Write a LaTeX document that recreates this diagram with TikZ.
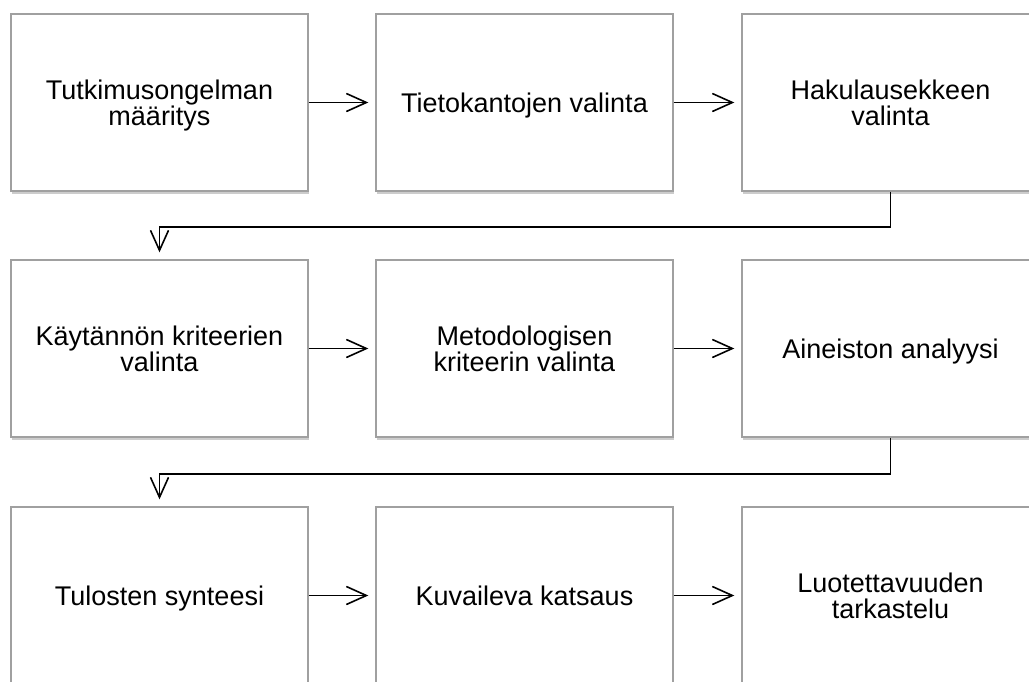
\documentclass[tikz,border=0pt]{standalone}
\usepackage{fontspec}
\setmainfont{Liberation Sans}
\usetikzlibrary{arrows.meta, shadows}
\tikzset{
  stage/.style={rectangle, draw={rgb,255:red,160;green,160;blue,160}, line width=1.4pt,
    fill=white, minimum width=297pt, minimum height=177pt,
    font=\fontsize{27}{25.5}\selectfont, align=center, text depth=0pt,
    drop shadow={shadow xshift=1pt, shadow yshift=-2.5pt, opacity=0.4, fill=gray}},
  flow/.style={-{Straight Barb[length=20pt, width=18pt]}, line width=1.6pt,
    shorten >=7pt}
}

\begin{document}
\begin{tikzpicture}[x=1pt, y=1pt]
\useasboundingbox (0,0) rectangle (1029,-681);

%% Row 1
\node[stage] (problem)     at (159.5, -102.5) {Tutkimusongelman\\määritys};
\node[stage] (databases)   at (524.5, -102.5) {Tietokantojen valinta};
\node[stage] (searchterms) at (890.5, -102.5) {Hakulausekkeen\\valinta};

%% Row 2
\node[stage] (practical)   at (159.5, -348.5) {\smash{Käytännön} kriteerien\\valinta};
\node[stage] (method)      at (524.5, -348.5) {Metodologisen\\kriteerin valinta};
\node[stage] (analysis)    at (890.5, -348.5) {Aineiston analyysi};

%% Row 3
\node[stage] (synthesis)   at (159.5, -595.5) {Tulosten synteesi};
\node[stage] (review)      at (524.5, -595.5) {Kuvaileva katsaus};
\node[stage] (reliability) at (890.5, -595.5) {Luotettavuuden\\tarkastelu};

%% ── Row 1 flows
\draw[flow] (problem.east) -- (databases.west);
\draw[flow] (databases.east) -- (searchterms.west);
\draw[flow] (searchterms.south) -- ++(0,-35) -| (practical.north);

%% ── Row 2 flows
\draw[flow] (practical.east) -- (method.west);
\draw[flow] (method.east) -- (analysis.west);
\draw[flow] (analysis.south) -- ++(0,-36) -| (synthesis.north);

%% ── Row 3 flows
\draw[flow] (synthesis.east) -- (review.west);
\draw[flow] (review.east) -- (reliability.west);

\end{tikzpicture}
\end{document}
